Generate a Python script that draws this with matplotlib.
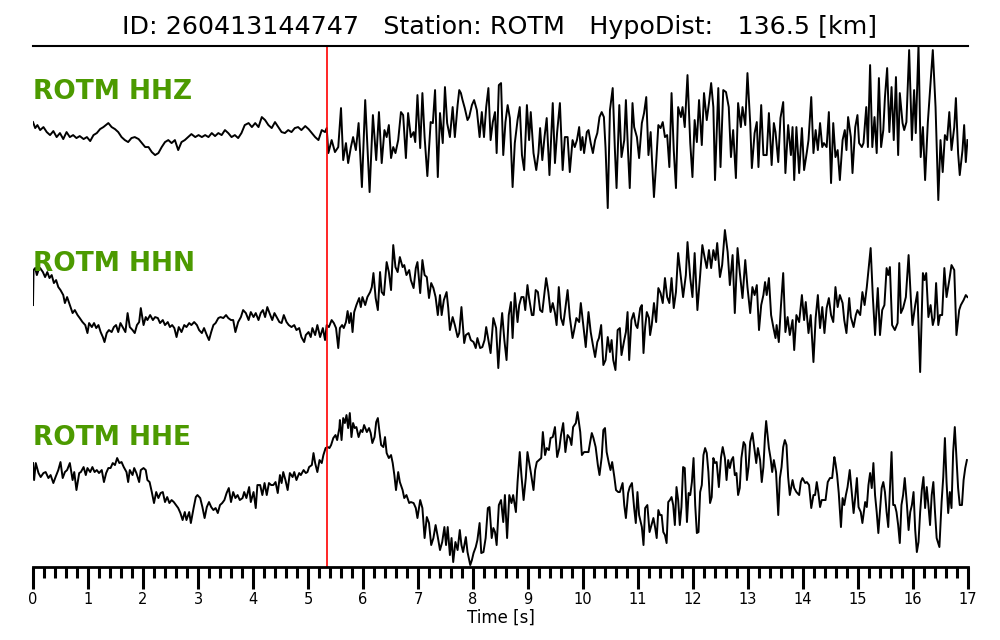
import numpy as np
import matplotlib.pyplot as plt
from matplotlib.ticker import MultipleLocator

event_id = '260413144747'
station = 'ROTM'
hypo_dist = 136.5
channels = ['HHZ', 'HHN', 'HHE']
p_pick = 5.35  # s

hhz = np.array([
    (0.00, 8), (0.04, 2), (0.08, 5), (0.13, 0), (0.19, 3), (0.25, -2), (0.31, -5), (0.37, -1),
    (0.43, -7), (0.49, -3), (0.55, -9), (0.61, -2), (0.67, -7), (0.73, -5), (0.79, -8), (0.85, -6),
    (0.92, -9), (0.98, -7), (1.04, -11), (1.10, -5), (1.16, -3), (1.22, 1), (1.28, 3), (1.37, 7),
    (1.43, 3), (1.49, 1), (1.55, -2), (1.61, -7), (1.67, -10), (1.73, -12), (1.79, -8), (1.85, -7),
    (1.92, -9), (1.98, -13), (2.04, -17), (2.10, -17), (2.16, -22), (2.22, -25), (2.28, -23),
    (2.34, -17), (2.40, -12), (2.46, -10), (2.52, -13), (2.58, -10), (2.64, -20), (2.70, -12),
    (2.76, -10), (2.82, -7), (2.88, -4), (2.95, -7), (3.01, -5), (3.07, -7), (3.13, -5), (3.19, -7),
    (3.25, -3), (3.31, -6), (3.37, -3), (3.43, -5), (3.49, 0), (3.55, -3), (3.61, -7), (3.67, -5),
    (3.73, -8), (3.79, -3), (3.85, 5), (3.92, 7), (3.98, 3), (4.04, 7), (4.10, 3), (4.16, 13),
    (4.22, 10), (4.28, 5), (4.34, 2), (4.40, 8), (4.46, 3), (4.52, -2), (4.58, -3), (4.64, 0),
    (4.70, -2), (4.76, 2), (4.82, 3), (4.88, 0), (4.95, 4), (5.01, 1), (5.07, -3), (5.13, -7),
    (5.19, -10), (5.25, 0), (5.31, -2), (5.34, 2), (5.37, -23), (5.43, -10), (5.49, -22), (5.55, -17),
    (5.60, 22), (5.64, -30), (5.69, -13), (5.73, -33), (5.78, -17), (5.82, -7), (5.87, -20), (5.92, 7),
    (5.98, -57), (6.04, 30), (6.12, -62), (6.18, 15), (6.24, -30), (6.29, 18), (6.34, -33), (6.39, 0),
    (6.43, -7), (6.47, 5), (6.51, -28), (6.55, -17), (6.59, -23), (6.64, -10), (6.69, 18), (6.73, 15),
    (6.78, -28), (6.82, 17), (6.87, -7), (6.92, -2), (6.95, -12), (6.99, 35), (7.04, -18), (7.08, 37),
    (7.12, -7), (7.17, -46), (7.23, 8), (7.27, 7), (7.31, 40), (7.36, -47), (7.40, 17), (7.45, -13),
    (7.49, 43), (7.53, 7), (7.58, -7), (7.63, 23), (7.67, -7), (7.72, 25), (7.75, 40), (7.78, 37),
    (7.81, 30), (7.85, 22), (7.90, 10), (7.93, 13), (7.98, 25), (8.02, 30), (8.07, 20), (8.12, -7),
    (8.16, 18), (8.20, -7), (8.24, 23), (8.28, 42), (8.32, -10), (8.36, 8), (8.40, 18), (8.43, -23),
    (8.47, 45), (8.51, 47), (8.55, -25), (8.59, 8), (8.63, 25), (8.67, 12), (8.72, -57), (8.76, -13),
    (8.81, 10), (8.85, 23), (8.89, -25), (8.93, -40), (8.98, 25), (9.02, -10), (9.05, 18), (9.10, -23),
    (9.15, -40), (9.19, -23), (9.22, 2), (9.26, -30), (9.30, -7), (9.34, 12), (9.39, -45), (9.45, 27),
    (9.49, -33), (9.53, -2), (9.58, 27), (9.63, -40), (9.67, -7), (9.72, -7), (9.76, -42), (9.81, -10),
    (9.85, -17), (9.89, -10), (9.93, 3), (9.96, -20), (9.99, -7), (10.02, -23), (10.07, -2), (10.10, 0),
    (10.14, -13), (10.18, -23), (10.22, -10), (10.26, -3), (10.30, 13), (10.34, 18), (10.38, 13),
    (10.41, -18), (10.45, -78), (10.49, 20), (10.54, 42), (10.58, -20), (10.61, -58), (10.66, 25),
    (10.70, -27), (10.75, -10), (10.78, 30), (10.82, -23), (10.85, -58), (10.90, 27), (10.93, 3),
    (10.98, -7), (11.02, -28), (11.07, 7), (11.11, 17), (11.15, 33), (11.19, -25), (11.23, -2),
    (11.25, -25), (11.29, -67), (11.33, -33), (11.37, 5), (11.41, 2), (11.45, 8), (11.49, -7),
    (11.53, -5), (11.57, -37), (11.61, 37), (11.65, -20), (11.69, -58), (11.73, 23), (11.78, 13),
    (11.81, 23), (11.85, 3), (11.90, 55), (11.95, -13), (11.99, -47), (12.03, 10), (12.07, -12),
    (12.11, 30), (12.16, -15), (12.20, 37), (12.25, 10), (12.29, 27), (12.33, 47), (12.37, 23),
    (12.40, -50), (12.46, 42), (12.50, -37), (12.55, 40), (12.60, 38), (12.65, 23), (12.69, -27),
    (12.73, 0), (12.78, -48), (12.82, 27), (12.87, 3), (12.90, 23), (12.95, 5), (12.99, 57), (13.04, 7),
    (13.07, -38), (13.12, -3), (13.16, 8), (13.19, -37), (13.24, 25), (13.28, -25), (13.34, -25),
    (13.38, 17), (13.43, -35), (13.47, 7), (13.50, -2), (13.55, -32), (13.59, 12), (13.64, 28),
    (13.68, -43), (13.73, 5), (13.78, -25), (13.81, 3), (13.84, -50), (13.88, 3), (13.93, -43),
    (13.98, 2), (14.02, -40), (14.07, -22), (14.10, -10), (14.15, 33), (14.19, -23), (14.23, 0),
    (14.27, -20), (14.31, 7), (14.35, -17), (14.38, -13), (14.43, -17), (14.47, 18), (14.51, -53),
    (14.55, 7), (14.59, -27), (14.63, -20), (14.67, -50), (14.72, -10), (14.76, 0), (14.79, -20),
    (14.82, 13), (14.87, -7), (14.90, -43), (14.95, 3), (14.99, 15), (15.02, -13), (15.07, -17),
    (15.10, -13), (15.15, 23), (15.18, -17), (15.22, 65), (15.26, -17), (15.30, 13), (15.34, -23),
    (15.38, 52), (15.42, -17), (15.46, 0), (15.49, 33), (15.53, 62), (15.57, -2), (15.61, 43),
    (15.65, -10), (15.69, 53), (15.73, -25), (15.76, 37), (15.81, 7), (15.84, 0), (15.88, 8),
    (15.93, 80), (15.98, -10), (16.02, 40), (16.05, -3), (16.10, 85), (16.14, -27), (16.18, 3),
    (16.22, -50), (16.27, 8), (16.31, 40), (16.36, 80), (16.41, 23), (16.46, -70), (16.50, -10),
    (16.54, -42), (16.58, -5), (16.62, -10), (16.66, 18), (16.70, -20), (16.75, 3), (16.78, 32),
    (16.82, -23), (16.85, -45), (16.90, -20), (16.93, 5), (16.96, -32), (16.99, -10),
])

hhn = np.array([
    (0.00, 0), (0.01, 35), (0.04, 37), (0.07, 30), (0.10, 35), (0.13, 37), (0.18, 33), (0.22, 28),
    (0.26, 33), (0.30, 27), (0.34, 30), (0.38, 22), (0.42, 25), (0.46, 18), (0.50, 15), (0.55, 10),
    (0.58, 2), (0.62, 8), (0.67, 0), (0.72, -8), (0.76, -5), (0.81, -10), (0.85, -13), (0.90, -17),
    (0.95, -20), (0.99, -28), (1.02, -18), (1.07, -22), (1.11, -18), (1.15, -23), (1.19, -20),
    (1.23, -27), (1.27, -32), (1.30, -37), (1.34, -28), (1.38, -25), (1.43, -27), (1.47, -22),
    (1.51, -20), (1.55, -27), (1.59, -18), (1.64, -23), (1.68, -27), (1.72, -8), (1.76, -22),
    (1.81, -25), (1.85, -28), (1.89, -20), (1.93, -17), (1.96, -3), (2.01, -20), (2.05, -12),
    (2.08, -15), (2.13, -10), (2.18, -15), (2.22, -12), (2.27, -13), (2.31, -18), (2.36, -15),
    (2.40, -20), (2.45, -17), (2.49, -22), (2.53, -20), (2.57, -23), (2.61, -32), (2.65, -22),
    (2.70, -27), (2.75, -20), (2.79, -22), (2.84, -18), (2.88, -20), (2.93, -17), (2.98, -20),
    (3.02, -25), (3.07, -28), (3.11, -23), (3.16, -30), (3.20, -35), (3.24, -27), (3.28, -20),
    (3.32, -18), (3.37, -13), (3.41, -12), (3.46, -13), (3.51, -10), (3.55, -13), (3.60, -15),
    (3.64, -15), (3.68, -27), (3.73, -17), (3.78, -12), (3.82, -5), (3.87, -8), (3.92, -15),
    (3.96, -7), (4.01, -12), (4.05, -8), (4.10, -15), (4.14, -8), (4.18, -5), (4.22, -12), (4.26, -2),
    (4.30, -8), (4.35, -15), (4.39, -8), (4.43, -12), (4.48, -17), (4.52, -18), (4.56, -10),
    (4.61, -17), (4.65, -20), (4.70, -22), (4.75, -20), (4.79, -25), (4.84, -23), (4.88, -32),
    (4.93, -37), (4.96, -30), (5.01, -27), (5.05, -32), (5.08, -23), (5.13, -30), (5.17, -20),
    (5.22, -32), (5.27, -23), (5.31, -35), (5.34, -20), (5.38, -22), (5.43, -15), (5.47, -18),
    (5.51, -23), (5.55, -43), (5.58, -23), (5.62, -20), (5.65, -23), (5.69, -17), (5.72, -6),
    (5.75, -18), (5.78, -8), (5.81, -27), (5.84, -7), (5.88, 0), (5.93, 7), (5.96, -2), (5.99, 8),
    (6.04, 0), (6.08, 8), (6.13, 13), (6.16, 18), (6.19, 32), (6.23, 7), (6.27, -5), (6.31, 33),
    (6.34, 13), (6.38, 10), (6.43, 43), (6.47, 33), (6.51, 15), (6.55, 60), (6.59, 38), (6.63, 33),
    (6.67, 48), (6.72, 38), (6.75, 40), (6.79, 30), (6.84, 35), (6.87, 25), (6.92, 17), (6.96, 37),
    (6.99, 43), (7.04, 12), (7.08, 45), (7.12, 30), (7.16, 28), (7.20, 7), (7.24, 22), (7.28, 17),
    (7.32, 8), (7.36, -10), (7.40, 10), (7.43, -10), (7.47, 5), (7.52, 13), (7.55, -3), (7.58, -25),
    (7.63, -12), (7.67, -20), (7.72, -32), (7.75, -28), (7.79, -2), (7.84, -38), (7.87, -30),
    (7.92, -28), (7.96, -35), (8.01, -37), (8.05, -43), (8.08, -33), (8.13, -43), (8.17, -42),
    (8.21, -35), (8.24, -22), (8.28, -35), (8.32, -48), (8.37, -13), (8.42, -23), (8.46, -63),
    (8.50, -27), (8.53, -8), (8.57, -35), (8.61, -55), (8.65, -10), (8.69, 3), (8.72, -33), (8.76, 12),
    (8.81, -17), (8.84, 0), (8.88, 8), (8.92, 8), (8.95, -5), (8.99, 20), (9.02, 7), (9.07, -10),
    (9.10, -10), (9.14, 15), (9.18, 13), (9.22, -5), (9.26, -7), (9.30, 13), (9.33, 27), (9.37, 13),
    (9.41, -7), (9.45, 2), (9.49, -8), (9.52, -20), (9.56, 18), (9.60, -13), (9.64, -20), (9.68, -3),
    (9.72, 15), (9.76, -12), (9.81, -33), (9.84, -25), (9.88, -13), (9.93, -17), (9.96, 2),
    (10.01, -23), (10.05, -42), (10.10, -7), (10.14, -27), (10.18, -40), (10.22, -52), (10.26, -37),
    (10.29, -33), (10.33, -20), (10.37, -60), (10.41, -55), (10.45, -32), (10.49, -47), (10.52, -35),
    (10.55, -55), (10.59, -65), (10.63, -25), (10.67, -23), (10.70, -50), (10.75, -35), (10.78, -27),
    (10.81, -7), (10.84, -55), (10.88, -15), (10.92, -8), (10.96, -20), (10.99, -23), (11.04, -3),
    (11.07, 0), (11.10, -48), (11.13, -22), (11.16, -7), (11.20, -13), (11.22, -30), (11.25, -20),
    (11.29, 2), (11.33, -17), (11.37, 17), (11.41, 12), (11.45, 2), (11.49, 27), (11.53, 8),
    (11.57, 2), (11.61, 27), (11.65, -3), (11.69, 13), (11.73, 52), (11.78, 27), (11.82, 8),
    (11.87, 30), (11.90, 63), (11.95, 27), (11.99, 8), (12.03, 52), (12.08, -5), (12.13, 30),
    (12.17, 60), (12.21, 48), (12.25, 37), (12.29, 55), (12.33, 37), (12.37, 55), (12.41, 45),
    (12.44, 62), (12.49, 28), (12.53, 40), (12.58, 75), (12.63, 53), (12.67, 20), (12.72, 50),
    (12.76, -8), (12.81, 57), (12.85, 33), (12.90, 7), (12.95, 45), (12.99, 18), (13.04, -8),
    (13.08, 18), (13.12, 10), (13.16, 20), (13.20, -25), (13.24, 0), (13.28, 10), (13.31, 23),
    (13.34, 10), (13.38, 27), (13.42, -10), (13.46, -22), (13.50, -33), (13.52, -20), (13.56, -37),
    (13.60, 0), (13.64, 32), (13.68, -27), (13.72, -12), (13.76, -30), (13.81, -15), (13.84, -45),
    (13.88, -10), (13.93, -17), (13.98, 10), (14.02, -15), (14.05, 3), (14.10, -28), (14.14, -10),
    (14.19, -57), (14.23, -13), (14.27, 10), (14.31, -23), (14.35, -2), (14.39, -28), (14.43, -3),
    (14.47, 7), (14.51, -10), (14.55, -17), (14.59, 18), (14.63, -2), (14.67, 10), (14.72, 2),
    (14.75, -15), (14.79, -28), (14.84, 7), (14.87, -12), (14.92, -22), (14.96, -10), (14.99, -5),
    (15.04, -10), (15.08, 13), (15.12, 0), (15.16, 18), (15.20, 40), (15.23, 57), (15.27, 8),
    (15.31, -30), (15.36, 17), (15.40, -30), (15.44, -5), (15.48, 0), (15.52, 37), (15.55, 30),
    (15.58, 38), (15.62, -20), (15.67, -25), (15.72, -18), (15.75, 42), (15.78, -8), (15.82, -3),
    (15.87, 8), (15.92, 50), (15.96, 7), (15.99, -20), (16.04, 0), (16.08, 13), (16.13, -67),
    (16.18, 32), (16.21, 25), (16.24, 32), (16.28, -12), (16.32, 0), (16.36, -20), (16.39, -13),
    (16.42, 22), (16.46, -20), (16.49, -10), (16.53, -10), (16.57, 37), (16.61, 8), (16.66, 25),
    (16.70, 40), (16.75, 35), (16.79, -30), (16.84, -5), (16.87, 0), (16.92, 5), (16.96, 10),
    (16.99, 8),
])

hhe = np.array([
    (0.00, 12), (0.02, -5), (0.05, 12), (0.10, 2), (0.14, -2), (0.19, 2), (0.23, 3), (0.28, -3),
    (0.32, 0), (0.37, -8), (0.41, -2), (0.46, 5), (0.50, 13), (0.54, -3), (0.58, 3), (0.62, 5),
    (0.67, 12), (0.72, -5), (0.75, 3), (0.79, -15), (0.84, 2), (0.87, 3), (0.92, 8), (0.96, 0),
    (0.99, 7), (1.04, 3), (1.08, 8), (1.12, 3), (1.16, 5), (1.20, 2), (1.25, 5), (1.29, -7), (1.33, 2),
    (1.37, 7), (1.41, 7), (1.45, 12), (1.49, 10), (1.53, 17), (1.57, 12), (1.61, 13), (1.65, 8),
    (1.70, 3), (1.73, -7), (1.76, 5), (1.81, 0), (1.84, 7), (1.88, 2), (1.93, -7), (1.96, 5), (2.01, 7),
    (2.05, 5), (2.08, -5), (2.12, -7), (2.16, -17), (2.20, -28), (2.24, -17), (2.28, -23), (2.32, -18),
    (2.36, -17), (2.40, -27), (2.44, -22), (2.48, -28), (2.52, -25), (2.56, -27), (2.60, -30),
    (2.64, -33), (2.68, -38), (2.72, -45), (2.76, -37), (2.79, -45), (2.84, -37), (2.87, -48),
    (2.92, -33), (2.96, -22), (2.99, -20), (3.04, -23), (3.08, -32), (3.12, -43), (3.16, -32),
    (3.20, -27), (3.24, -32), (3.28, -35), (3.32, -33), (3.36, -38), (3.40, -30), (3.44, -28),
    (3.48, -25), (3.52, -18), (3.56, -13), (3.60, -27), (3.64, -17), (3.68, -23), (3.72, -20),
    (3.76, -25), (3.81, -23), (3.84, -17), (3.88, -23), (3.93, -12), (3.96, -27), (4.01, -17),
    (4.05, -33), (4.08, -10), (4.13, -10), (4.17, -20), (4.21, -8), (4.25, -20), (4.29, -8),
    (4.33, -10), (4.37, -10), (4.41, -7), (4.45, -18), (4.49, 0), (4.52, -8), (4.55, 3), (4.59, -5),
    (4.63, -15), (4.67, 2), (4.72, -2), (4.75, 3), (4.79, -5), (4.84, 2), (4.87, 0), (4.92, 5),
    (4.96, 2), (4.99, 3), (5.02, 8), (5.07, 10), (5.10, 22), (5.13, 12), (5.17, 3), (5.21, 15),
    (5.25, 12), (5.28, 20), (5.32, 27), (5.36, 28), (5.39, 27), (5.42, 30), (5.46, 37), (5.50, 40),
    (5.53, 35), (5.57, 47), (5.58, 55), (5.61, 35), (5.64, 57), (5.67, 52), (5.70, 60), (5.73, 47),
    (5.76, 62), (5.79, 38), (5.82, 52), (5.85, 47), (5.88, 48), (5.92, 38), (5.96, 45), (5.99, 43),
    (6.02, 50), (6.07, 43), (6.11, 47), (6.14, 42), (6.17, 32), (6.21, 38), (6.24, 53), (6.27, 57),
    (6.30, 43), (6.33, 30), (6.37, 28), (6.40, 38), (6.43, 22), (6.47, 17), (6.51, 20), (6.54, 12),
    (6.57, 0), (6.60, -15), (6.64, 3), (6.67, -7), (6.72, -15), (6.75, -23), (6.79, -20), (6.84, -28),
    (6.87, -27), (6.92, -28), (6.96, -33), (6.99, -43), (7.04, -25), (7.08, -33), (7.12, -63),
    (7.16, -42), (7.20, -48), (7.24, -70), (7.28, -63), (7.32, -50), (7.36, -62), (7.40, -75),
    (7.44, -67), (7.48, -52), (7.51, -70), (7.54, -52), (7.58, -80), (7.61, -63), (7.64, -87),
    (7.68, -67), (7.72, -75), (7.76, -55), (7.79, -70), (7.82, -77), (7.87, -62), (7.90, -77),
    (7.95, -90), (7.98, -85), (8.01, -78), (8.05, -72), (8.08, -65), (8.12, -48), (8.15, -78),
    (8.19, -77), (8.23, -63), (8.27, -33), (8.30, -32), (8.34, -63), (8.37, -53), (8.40, -57),
    (8.43, -70), (8.47, -30), (8.51, -25), (8.55, -47), (8.58, -20), (8.62, -63), (8.66, -20),
    (8.70, -28), (8.73, -20), (8.78, -37), (8.81, -7), (8.85, 23), (8.88, 0), (8.92, -25), (8.96, -3),
    (8.99, 23), (9.02, 13), (9.05, 3), (9.10, -15), (9.13, 5), (9.16, 13), (9.20, 15), (9.24, 17),
    (9.27, 43), (9.31, 20), (9.34, 27), (9.38, 25), (9.41, 37), (9.45, 38), (9.49, 48), (9.53, 18),
    (9.57, 27), (9.60, 40), (9.64, 52), (9.68, 23), (9.72, 40), (9.76, 37), (9.79, 30), (9.82, 48),
    (9.87, 52), (9.90, 63), (9.95, 43), (9.98, 20), (10.02, 23), (10.05, 23), (10.10, 23), (10.13, 33),
    (10.16, 42), (10.19, 37), (10.23, 28), (10.27, 10), (10.30, 0), (10.34, 18), (10.37, 45),
    (10.40, 47), (10.43, 23), (10.47, 12), (10.50, 5), (10.53, 13), (10.57, -2), (10.60, -15),
    (10.64, -17), (10.67, -17), (10.72, -8), (10.75, -30), (10.78, -43), (10.82, -18), (10.85, -12),
    (10.89, -8), (10.93, -33), (10.96, -48), (10.99, -17), (11.02, -40), (11.07, -52), (11.10, -70),
    (11.13, -33), (11.17, -30), (11.21, -57), (11.28, -43), (11.31, -52), (11.34, -63), (11.37, -35),
    (11.40, -40), (11.43, -40), (11.46, -57), (11.49, -60), (11.52, -68), (11.55, -27), (11.58, -25),
    (11.61, -22), (11.64, -30), (11.67, -50), (11.70, -12), (11.73, -25), (11.76, -50), (11.79, -32),
    (11.82, 8), (11.85, 7), (11.89, -47), (11.92, -18), (11.95, -20), (11.98, -7), (12.01, 17),
    (12.04, -30), (12.07, -58), (12.10, -57), (12.13, -17), (12.16, -10), (12.19, 20), (12.22, 27),
    (12.25, 22), (12.28, 3), (12.31, -28), (12.34, -22), (12.37, 17), (12.40, 12), (12.43, 13),
    (12.47, -12), (12.51, 18), (12.54, 28), (12.58, 17), (12.61, -5), (12.64, 15), (12.67, 7),
    (12.70, 15), (12.73, 18), (12.76, 0), (12.79, 2), (12.82, -20), (12.85, -13), (12.88, 17),
    (12.92, 33), (12.95, 30), (12.98, -5), (13.01, 8), (13.04, 33), (13.08, 42), (13.12, 25),
    (13.15, 12), (13.18, 27), (13.22, 15), (13.25, -7), (13.28, 8), (13.31, 40), (13.33, 54),
    (13.35, 43), (13.38, 27), (13.41, 17), (13.44, 3), (13.47, 15), (13.51, 3), (13.55, -40),
    (13.58, -3), (13.61, 8), (13.64, 28), (13.67, 35), (13.70, 30), (13.73, -2), (13.76, -20),
    (13.81, -5), (13.84, -13), (13.88, -17), (13.93, -20), (13.96, -7), (13.99, -3), (14.04, -8),
    (14.07, -7), (14.11, -10), (14.15, -33), (14.19, -20), (14.22, -20), (14.25, -7), (14.28, -18),
    (14.31, -32), (14.34, -25), (14.37, -25), (14.41, -25), (14.45, -7), (14.49, -3), (14.53, -3),
    (14.57, 18), (14.59, 12), (14.62, 0), (14.65, -18), (14.69, -52), (14.72, -23), (14.75, -30),
    (14.78, -20), (14.81, -12), (14.85, 5), (14.88, -13), (14.92, -38), (14.95, -22), (14.98, -3),
    (15.01, -32), (15.05, -37), (15.08, -48), (15.13, -27), (15.16, -32), (15.19, -10), (15.22, 2),
    (15.25, -13), (15.28, 12), (15.31, -20), (15.34, -37), (15.37, -58), (15.40, -35), (15.43, -13),
    (15.46, -7), (15.49, -17), (15.52, -37), (15.55, -52), (15.58, -15), (15.61, 23), (15.64, -30),
    (15.67, -30), (15.70, -37), (15.73, -50), (15.76, -68), (15.79, -30), (15.82, -20), (15.85, -3),
    (15.89, -30), (15.92, -55), (15.95, -37), (15.98, -30), (16.01, -17), (16.04, -55), (16.07, -77),
    (16.10, -67), (16.13, -37), (16.16, -15), (16.19, -2), (16.22, -33), (16.25, -12), (16.28, -30),
    (16.31, -50), (16.34, -20), (16.37, -7), (16.40, -37), (16.43, -63), (16.48, -72), (16.52, -27),
    (16.55, -2), (16.58, 37), (16.61, -7), (16.64, -38), (16.67, -17), (16.70, -33), (16.73, 23),
    (16.76, 48), (16.79, 17), (16.82, -13), (16.85, -30), (16.89, -30), (16.92, -5), (16.95, 7),
    (16.98, 15),
])

traces = [hhz, hhn, hhe]

fig = plt.figure(figsize=(10, 6.4), dpi=100)
ax = fig.add_axes([0.033, 0.114, 0.935, 0.814])

# vertical stacking of the three components
offsets = [437, 262, 92]
label_lift = [31, 34, 30]
for name, tr, off, lift in zip(channels, traces, offsets, label_lift):
    ax.plot(tr[:, 0], tr[:, 1] + off, color='black', lw=1.4)
    ax.text(0.0, off + lift, f'{station} {name}', color='#4c9a00',
            fontsize=19, fontweight='bold', va='baseline', ha='left')

ax.axvline(p_pick, color='red', lw=1.2)

ax.set_xlim(0, 17)
ax.set_ylim(0, 521)
ax.spines['left'].set_visible(False)
ax.spines['right'].set_visible(False)
ax.spines['top'].set_linewidth(1.5)
ax.spines['bottom'].set_linewidth(2)
ax.yaxis.set_visible(False)

ax.xaxis.set_major_locator(MultipleLocator(1))
ax.xaxis.set_minor_locator(MultipleLocator(0.2))
ax.tick_params(axis='x', which='major', length=16, width=2.2, labelsize=10.5, pad=2)
ax.tick_params(axis='x', which='minor', length=8, width=2.2)
ax.set_xlabel('Time [s]', fontsize=12, labelpad=1)

title = f'ID: {event_id}   Station: {station}   HypoDist:   {hypo_dist} [km]'
fig.text(0.5, 1 - 27 / 640, title, ha='center', va='center', fontsize=18.3)

fig.savefig('out.png', dpi=100)
